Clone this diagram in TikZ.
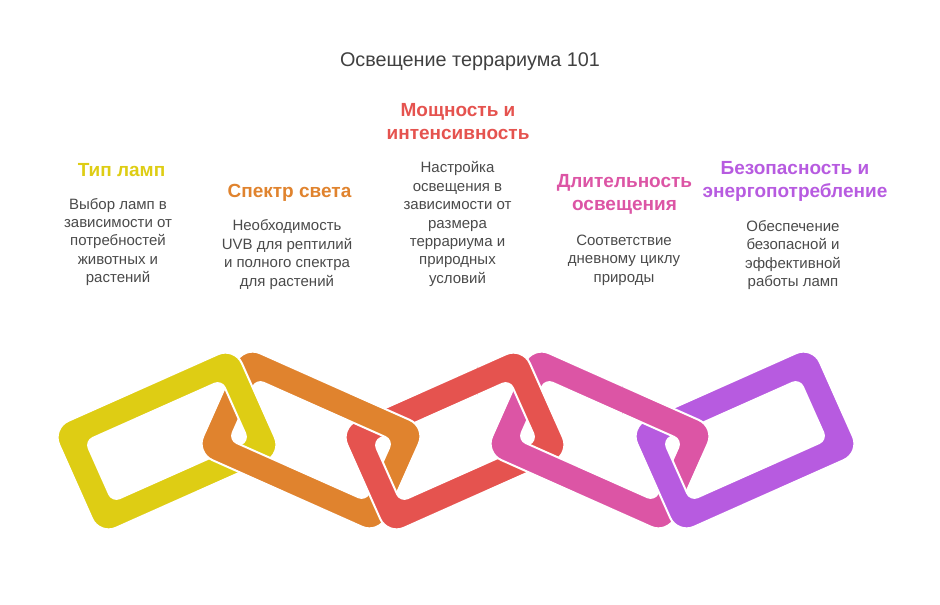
\documentclass[tikz,border=0pt]{standalone}
\usepackage{fontspec}
\setmainfont{Liberation Sans}
\definecolor{cY}{HTML}{DECD14}
\definecolor{cO}{HTML}{E0832E}
\definecolor{cR}{HTML}{E5534F}
\definecolor{cP}{HTML}{DC55A5}
\definecolor{cV}{HTML}{B75BE0}
\definecolor{txt}{HTML}{4A4A4A}
\definecolor{ttl}{HTML}{404040}
\newcommand{\chainlink}[4]{%
  \begin{scope}[shift={(#1,605-#2)}, rotate=#3]
    \path[fill=#4, draw=white, line width=2, even odd rule]
      [rounded corners=18] (-100,-58.5) rectangle (100,58.5)
      [rounded corners=8] (-74.5,-33) rectangle (74.5,33);
  \end{scope}}
\newcommand{\overlap}[5]{% xm, x, y, angle, color
  \begin{scope}
    \clip (#1-50,605-325) rectangle (#1+50,605-438);
    \chainlink{#2}{#3}{#4}{#5}
  \end{scope}}
\tikzset{
  ttlstyle/.style={inner sep=0, text=ttl, font=\fontsize{19.8}{24}\selectfont},
  headstyle/.style={inner sep=0, align=center, font=\bfseries\fontsize{19}{23}\selectfont},
  bodystyle/.style={inner sep=0, align=center, text=txt, font=\fontsize{15}{18.4}\selectfont}
}
\begin{document}
\begin{tikzpicture}[x=1pt,y=1pt]
\useasboundingbox (0,0) rectangle (940,605);
% chain
\chainlink{167}{441}{24}{cY}
\chainlink{311}{440}{-24}{cO}
\chainlink{455}{441}{24}{cR}
\chainlink{600}{440}{-24}{cP}
\chainlink{745}{440}{24}{cV}
\overlap{239}{167}{441}{24}{cY}
\overlap{383}{311}{440}{-24}{cO}
\overlap{527.5}{455}{441}{24}{cR}
\overlap{672.5}{600}{440}{-24}{cP}
% texts
\node[ttlstyle] (title) at (470,605-62) {Освещение террариума 101};
\node[headstyle, text=cY] (h1) at (121.5,605-170) {Тип ламп};
\node[bodystyle] (b1) at (118,605-242) {Выбор ламп в\\зависимости от\\потребностей\\животных и\\растений};
\node[headstyle, text=cO] (h2) at (289.5,605-193) {Спектр света};
\node[bodystyle] (b2) at (287,605-254.5) {Необходимость\\UVB для рептилий\\и полного спектра\\для растений};
\node[headstyle, text=cR] (h3) at (458,605-121.5) {Мощность и\\интенсивность};
\node[bodystyle] (b3) at (457.5,605-224) {Настройка\\освещения в\\зависимости от\\размера\\террариума и\\природных\\условий};
\node[headstyle, text=cP] (h4) at (624.5,605-194.5) {Длительность\\освещения};
\node[bodystyle] (b4) at (624,605-260) {Соответствие\\дневному циклу\\природы};
\node[headstyle, text=cV] (h5) at (795,605-181.5) {Безопасность и\\энергопотребление};
\node[bodystyle] (b5) at (793,605-255) {Обеспечение\\безопасной и\\эффективной\\работы ламп};
\end{tikzpicture}
\end{document}
